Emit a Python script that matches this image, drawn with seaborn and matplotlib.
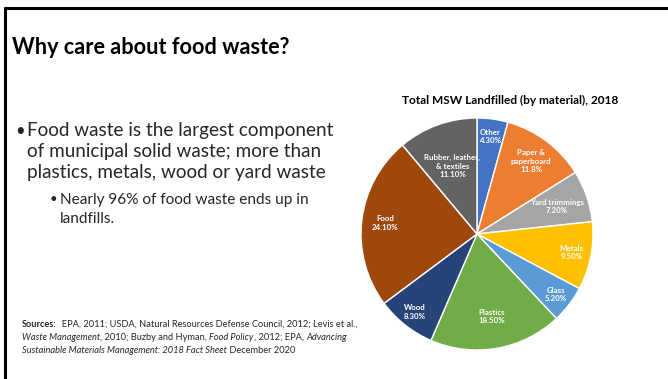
import matplotlib
matplotlib.use("Agg")
import matplotlib.pyplot as plt
from matplotlib.lines import Line2D
import numpy as np
import seaborn as sns

# ---- data -------------------------------------------------------------
materials = ["Other", "Paper &\npaperboard", "Yard trimmings", "Metals", "Glass",
             "Plastics", "Wood", "Food", "Rubber, leather,\n& textiles"]
shares = [4.3, 11.8, 7.2, 9.5, 5.2, 18.5, 8.3, 24.1, 11.1]
decimals = [2, 1, 2, 2, 2, 2, 2, 2, 2]
colors = ["#4472C4", "#ED7D31", "#A5A5A5", "#FFC000", "#5B9BD5",
          "#70AD47", "#264478", "#9E480E", "#636363"]

slide_title = "Why care about food waste?"
chart_title = "Total MSW Landfilled (by material), 2018"
bullet_main = ["Food waste is the largest component",
               "of municipal solid waste; more than",
               "plastics, metals, wood or yard waste"]
bullet_sub = ["Nearly 96% of food waste ends up in", "landfills."]
sources_lines = [
    [("Sources:", "bold"), ("  EPA, 2011; USDA, Natural Resources Defense Council, 2012; Levis et al.,", "normal")],
    [("Waste Management", "italic"), (", 2010; Buzby and Hyman, ", "normal"), ("Food Policy", "italic"),
     (", 2012; EPA, ", "normal"), ("Advancing", "italic")],
    [("Sustainable Materials Management: 2018 Fact Sheet", "italic"), (" December 2020", "normal")],
]

# ---- layout -----------------------------------------------------------
label_radius = [0.85, 0.78, 0.73, 0.83, 0.86, 0.72, 0.86, 0.80, 0.62]
W, H = 668, 379
FONT = "Lato"

sns.set_theme(style="white")
plt.rcParams["font.family"] = [FONT, "DejaVu Sans"]
palette = sns.color_palette(colors)

fig = plt.figure(figsize=(W / 100, H / 100), dpi=100)
fig.patch.set_facecolor("white")


def fx(px):
    return px / W


def fy(py):
    return 1 - py / H


# slide frame (top and left rules)
fig.add_artist(Line2D([fx(4), fx(668)], [fy(8), fy(8)], color="black", lw=2.2,
                      transform=fig.transFigure, solid_capstyle="butt"))
fig.add_artist(Line2D([fx(5), fx(5)], [fy(7), fy(379)], color="black", lw=2.2,
                      transform=fig.transFigure, solid_capstyle="butt"))

# slide heading
fig.text(fx(12), fy(54), slide_title, fontsize=15.6, fontweight="bold",
         va="baseline", ha="left", color="black")

# bullets
for i, line in enumerate(bullet_main):
    fig.text(fx(27), fy(136 + i * 21), line, fontsize=13.6, va="baseline", ha="left")
fig.text(fx(15), fy(136), "•", fontsize=12, va="baseline", ha="left")
for i, line in enumerate(bullet_sub):
    fig.text(fx(60), fy(204 + i * 19), line, fontsize=11.1, va="baseline", ha="left")
fig.text(fx(50), fy(203), "•", fontsize=9.5, va="baseline", ha="left")

# sources, set piece by piece so italics and bold sit inline
fig.canvas.draw()
renderer = fig.canvas.get_renderer()
for i, parts in enumerate(sources_lines):
    x = fx(22)
    for txt, style in parts:
        t = fig.text(x, fy(327 + i * 13), txt, fontsize=6.65, va="baseline", ha="left",
                     fontweight="bold" if style == "bold" else "normal",
                     fontstyle="italic" if style == "italic" else "normal")
        bb = t.get_window_extent(renderer=renderer)
        x += bb.width / W

# pie chart
cx, cy, r = 477, 234, 116
ax = fig.add_axes([fx(cx - r), fy(cy + r), 2 * r / W, 2 * r / H])
wedges, _ = ax.pie(shares, colors=palette, startangle=90, counterclock=False,
                   wedgeprops=dict(edgecolor="white", linewidth=1.0))
ax.set_xlim(-1, 1)
ax.set_ylim(-1, 1)
ax.set_aspect("equal")
ax.axis("off")

for w, name, v, d, lr in zip(wedges, materials, shares, decimals, label_radius):
    ang = np.deg2rad((w.theta1 + w.theta2) / 2)
    ax.text(lr * np.cos(ang), lr * np.sin(ang), f"{name}\n{v:.{d}f}%",
            ha="center", va="center", fontsize=5.7, fontweight="bold",
            color="white", linespacing=1.25)

fig.text(fx(510), fy(100), chart_title, fontsize=8.6, fontweight="bold",
         ha="center", va="center", color="black")

fig.savefig("out.png", dpi=100, facecolor="white")
